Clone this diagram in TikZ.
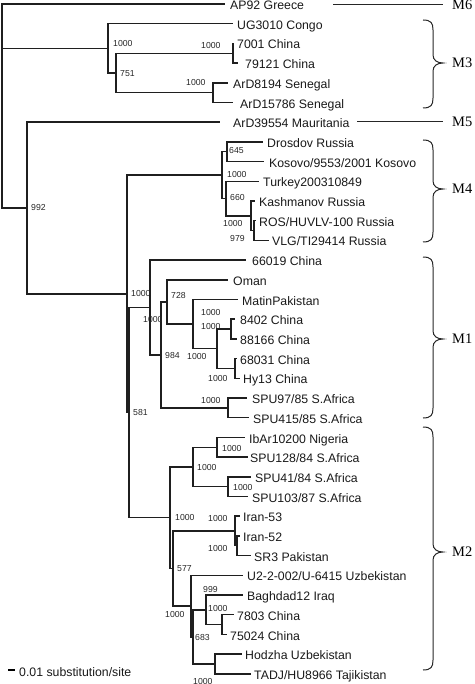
\documentclass[tikz,border=0pt]{standalone}
\usepackage{fontspec}
\setmainfont{Liberation Sans}
\newfontfamily\serifM{Liberation Serif}
\newcommand\cladebrace[3]{%
  (423,#1) .. controls (431,#1) and (433,{#1+3}) .. (433,{#1+10}) -- (433,{#3-8})
  .. controls (433,{#3-3}) and (437,#3) .. (443,#3)
  .. controls (437,#3) and (433,{#3+3}) .. (433,{#3+8}) -- (433,{#2-10})
  .. controls (433,{#2-3}) and (431,#2) .. (423,#2)}
\begin{document}
\begin{tikzpicture}[x=1pt,y=-1pt,
  br/.style={line width=1.45pt, draw=black!88},
  leaf/.style={anchor=base west, inner sep=0pt, font=\fontsize{12.3}{14}\selectfont, yshift=-5.6pt, text=black!90},
  bs/.style={anchor=base west, inner sep=0pt, font=\fontsize{8.7}{10}\selectfont, yshift=-3.1pt, text=black!85},
  clade/.style={anchor=base west, inner sep=0pt, font=\serifM\fontsize{14.5}{16}\selectfont, yshift=-4.8pt},
  bracel/.style={line width=1pt, draw=black!85}]
\useasboundingbox (0,0) rectangle (474,684);

% ---------- leaf end points and labels ----------
\coordinate (eAP) at (225,4);      \node[leaf] (tAP) at (230,4) {AP92 Greece};
\coordinate (eUG) at (233,23.7);   \node[leaf] (tUG) at (237,23.7) {UG3010 Congo};
\coordinate (e7001) at (234,43.4); \node[leaf] (t7001) at (237,43.4) {7001 China};
\coordinate (e79121) at (238,63.1);\node[leaf] (t79121) at (245,63.1) {79121 China};
\coordinate (eSen1) at (228,82.8); \node[leaf] (tSen1) at (233,82.8) {ArD8194 Senegal};
\coordinate (eSen2) at (233,102.5);\node[leaf] (tSen2) at (240,102.5) {ArD15786 Senegal};
\coordinate (eMaur) at (220,122.2);\node[leaf] (tMaur) at (233,122.2) {ArD39554 Mauritania};
\coordinate (eDros) at (263,141.9);\node[leaf] (tDros) at (267,141.9) {Drosdov Russia};
\coordinate (eKos) at (264,161.6); \node[leaf] (tKos) at (269,161.6) {Kosovo/9553/2001 Kosovo};
\coordinate (eTur) at (259,181.3); \node[leaf] (tTur) at (263,181.3) {Turkey200310849};
\coordinate (eKash) at (255,201);  \node[leaf] (tKash) at (259,201) {Kashmanov Russia};
\coordinate (eROS) at (256,220.7); \node[leaf] (tROS) at (259,220.7) {ROS/HUVLV-100 Russia};
\coordinate (eVLG) at (269,240.4); \node[leaf] (tVLG) at (272,240.4) {VLG/TI29414 Russia};
\coordinate (e66019) at (246,260.1);\node[leaf] (t66019) at (252,260.1) {66019 China};
\coordinate (eOman) at (228,279.8);\node[leaf] (tOman) at (233,279.8) {Oman};
\coordinate (eMatin) at (238,299.5);\node[leaf] (tMatin) at (242,299.5) {MatinPakistan};
\coordinate (e8402) at (235,319.2);\node[leaf] (t8402) at (240,319.2) {8402 China};
\coordinate (e88166) at (237,338.9);\node[leaf] (t88166) at (240,338.9) {88166 China};
\coordinate (e68031) at (237,358.6);\node[leaf] (t68031) at (240,358.6) {68031 China};
\coordinate (eHy13) at (240,378.3);\node[leaf] (tHy13) at (243,378.3) {Hy13 China};
\coordinate (eSPU97) at (247,398); \node[leaf] (tSPU97) at (252,398) {SPU97/85 S.Africa};
\coordinate (eSPU415) at (249,417.7);\node[leaf] (tSPU415) at (253,417.7) {SPU415/85 S.Africa};
\coordinate (eIbAr) at (245,437.4);\node[leaf] (tIbAr) at (249,437.4) {IbAr10200 Nigeria};
\coordinate (eSPU128) at (248,457.1);\node[leaf] (tSPU128) at (250,457.1) {SPU128/84 S.Africa};
\coordinate (eSPU41) at (251,476.8);\node[leaf] (tSPU41) at (255,476.8) {SPU41/84 S.Africa};
\coordinate (eSPU103) at (248,496.5);\node[leaf] (tSPU103) at (252,496.5) {SPU103/87 S.Africa};
\coordinate (eIran53) at (240,516.2);\node[leaf] (tIran53) at (243,516.2) {Iran-53};
\coordinate (eIran52) at (240,535.9);\node[leaf] (tIran52) at (243,535.9) {Iran-52};
\coordinate (eSR3) at (251,555.6); \node[leaf] (tSR3) at (254,555.6) {SR3 Pakistan};
\coordinate (eU2) at (243,575.3);  \node[leaf] (tU2) at (247,575.3) {U2-2-002/U-6415 Uzbekistan};
\coordinate (eBagh) at (243,595);  \node[leaf] (tBagh) at (247,595) {Baghdad12 Iraq};
\coordinate (e7803) at (234,614.7);\node[leaf] (t7803) at (237,614.7) {7803 China};
\coordinate (e75024) at (227,634.4);\node[leaf] (t75024) at (230,634.4) {75024 China};
\coordinate (eHodzha) at (242,654.1);\node[leaf] (tHodzha) at (245,654.1) {Hodzha Uzbekistan};
\coordinate (eTADJ) at (251,673.8);\node[leaf] (tTADJ) at (254,673.8) {TADJ/HU8966 Tajikistan};

% ---------- internal nodes ----------
\coordinate (root) at (2,106);
\coordinate (nM3) at (108,48.3);
\coordinate (n751) at (116,72.95);
\coordinate (n7001) at (233,53.25);
\coordinate (nSen) at (213,92.65);
\coordinate (n992) at (27,208);
\coordinate (nA) at (127,293.9);
\coordinate (nM4) at (222,175.15);
\coordinate (nDK) at (227,151.75);
\coordinate (nT) at (226,198.55);
\coordinate (nK) at (251,215.8);
\coordinate (nR) at (254,230.55);
\coordinate (n581) at (129,412.6);
\coordinate (nM1) at (150,307.5);
\coordinate (n984) at (161,354.9);
\coordinate (n728) at (167,301.95);
\coordinate (nMat) at (193,324.1);
\coordinate (n217) at (217,348.75);
\coordinate (n8402) at (231,329.05);
\coordinate (n68031) at (235,368.45);
\coordinate (nSPU) at (228,407.85);
\coordinate (nM2) at (170,517.7);
\coordinate (n193) at (193,466.95);
\coordinate (nIb) at (217,447.25);
\coordinate (nS41) at (228,486.65);
\coordinate (n577) at (173,568.5);
\coordinate (nI1) at (235,531);
\coordinate (nI2) at (237,545.75);
\coordinate (nU) at (191,606.1);
\coordinate (n683) at (193,636.9);
\coordinate (n999) at (206,609.8);
\coordinate (n7803) at (222,624.55);
\coordinate (nHT) at (215,663.95);

% ---------- branches ----------
\draw[br] (root) |- (eAP);  \draw[br] (root) |- (nM3);  \draw[br] (root) |- (n992);
\draw[line width=2.8pt, draw=black!88] (root |- eAP) -- (root |- n992);
\draw[br] (nM3) |- (eUG);   \draw[br] (nM3) |- (n751);
\draw[br] (n751) |- (n7001); \draw[br] (n751) |- (nSen);
\draw[br] (n7001) |- (e7001); \draw[br] (n7001) |- (e79121);
\draw[br] (nSen) |- (eSen1); \draw[br] (nSen) |- (eSen2);
\draw[br] (n992) |- (eMaur); \draw[br] (n992) |- (nA);
\draw[br] (nA) |- (nM4);    \draw[br] (nA) |- (n581);
\draw[br] (nM4) |- (nDK);   \draw[br] (nM4) |- (nT);
\draw[br] (nDK) |- (eDros); \draw[br] (nDK) |- (eKos);
\draw[br] (nT) |- (eTur);   \draw[br] (nT) |- (nK);
\draw[br] (nK) |- (eKash);  \draw[br] (nK) |- (nR);
\draw[br] (nR) |- (eROS);   \draw[br] (nR) |- (eVLG);
\draw[br] (n581) |- (nM1);  \draw[br] (n581) |- (nM2);
\draw[br] (nM1) |- (e66019); \draw[br] (nM1) |- (n984);
\draw[br] (n984) |- (n728); \draw[br] (n984) |- (nSPU);
\draw[br] (n728) |- (eOman); \draw[br] (n728) |- (nMat);
\draw[br] (nMat) |- (eMatin); \draw[br] (nMat) |- (n217);
\draw[br] (n217) |- (n8402); \draw[br] (n217) |- (n68031);
\draw[br] (n8402) |- (e8402); \draw[br] (n8402) |- (e88166);
\draw[br] (n68031) |- (e68031); \draw[br] (n68031) |- (eHy13);
\draw[br] (nSPU) |- (eSPU97); \draw[br] (nSPU) |- (eSPU415);
\draw[br] (nM2) |- (n193);  \draw[br] (nM2) |- (n577);
\draw[br] (n193) |- (nIb);  \draw[br] (n193) |- (nS41);
\draw[br] (nIb) |- (eIbAr); \draw[br] (nIb) |- (eSPU128);
\draw[br] (nS41) |- (eSPU41); \draw[br] (nS41) |- (eSPU103);
\draw[br] (n577) |- (nI1);  \draw[br] (n577) |- (nU);
\draw[br] (nI1) |- (eIran53); \draw[br] (nI1) |- (nI2);
\draw[br] (nI2) |- (eIran52); \draw[br] (nI2) |- (eSR3);
\draw[br] (nU) |- (eU2);    \draw[br] (nU) |- (n683);
\draw[br] (n683) |- (n999); \draw[br] (n683) |- (nHT);
\draw[br] (n999) |- (eBagh); \draw[br] (n999) |- (n7803);
\draw[br] (n7803) |- (e7803); \draw[br] (n7803) |- (e75024);
\draw[br] (nHT) |- (eHodzha); \draw[br] (nHT) |- (eTADJ);

% ---------- bootstrap values ----------
\node[bs] (b1) at (113,43) {1000};
\node[bs] (b2) at (120,73) {751};
\node[bs] (b3) at (201,45) {1000};
\node[bs] (b4) at (186,82) {1000};
\node[bs] (b5) at (31,207) {992};
\node[bs] (b6) at (229,150) {645};
\node[bs] (b7) at (227,174) {1000};
\node[bs] (b8) at (230,197) {660};
\node[bs] (b9) at (223,223) {1000};
\node[bs] (b10) at (230,238) {979};
\node[bs] (b11) at (131,293) {1000};
\node[bs] (b12) at (171,295) {728};
\node[bs] (b13) at (143,319) {1000};
\node[bs] (b14) at (201,312) {1000};
\node[bs] (b15) at (201,326) {1000};
\node[bs] (b16) at (165,355) {984};
\node[bs] (b17) at (187,356) {1000};
\node[bs] (b18) at (208,378) {1000};
\node[bs] (b19) at (201,400) {1000};
\node[bs] (b20) at (133,412) {581};
\node[bs] (b21) at (222,448) {1000};
\node[bs] (b22) at (197,467) {1000};
\node[bs] (b23) at (233,487) {1000};
\node[bs] (b24) at (175,517) {1000};
\node[bs] (b25) at (208,518) {1000};
\node[bs] (b26) at (208,548) {1000};
\node[bs] (b27) at (177,568) {577};
\node[bs] (b28) at (203,589) {999};
\node[bs] (b29) at (208,608) {1000};
\node[bs] (b30) at (165,614) {1000};
\node[bs] (b31) at (195,637) {683};
\node[bs] (b32) at (193,681) {1000};

% ---------- clade markers ----------
\coordinate (m6a) at (333,5); \coordinate (m6b) at (443,5);
\draw[bracel] (m6a) -- (m6b);
\node[clade] (M6) at (452,5) {M6};
\draw[bracel] \cladebrace{20}{108}{63};
\node[clade] (M3) at (452,63) {M3};
\coordinate (m5a) at (357,122); \coordinate (m5b) at (443,122);
\draw[bracel] (m5a) -- (m5b);
\node[clade] (M5) at (452,122) {M5};
\draw[bracel] \cladebrace{140}{242}{189};
\node[clade] (M4) at (452,189) {M4};
\draw[bracel] \cladebrace{257}{418}{339};
\node[clade] (M1) at (452,339) {M1};
\draw[bracel] \cladebrace{427}{670}{552};
\node[clade] (M2) at (452,552) {M2};

% ---------- scale bar ----------
\coordinate (sb1) at (8,670); \coordinate (sb2) at (15,670);
\draw[line width=1.2pt] (sb1) -- (sb2);
\node[leaf] (sbt) at (19,671) {0.01 substitution/site};
\end{tikzpicture}
\end{document}
